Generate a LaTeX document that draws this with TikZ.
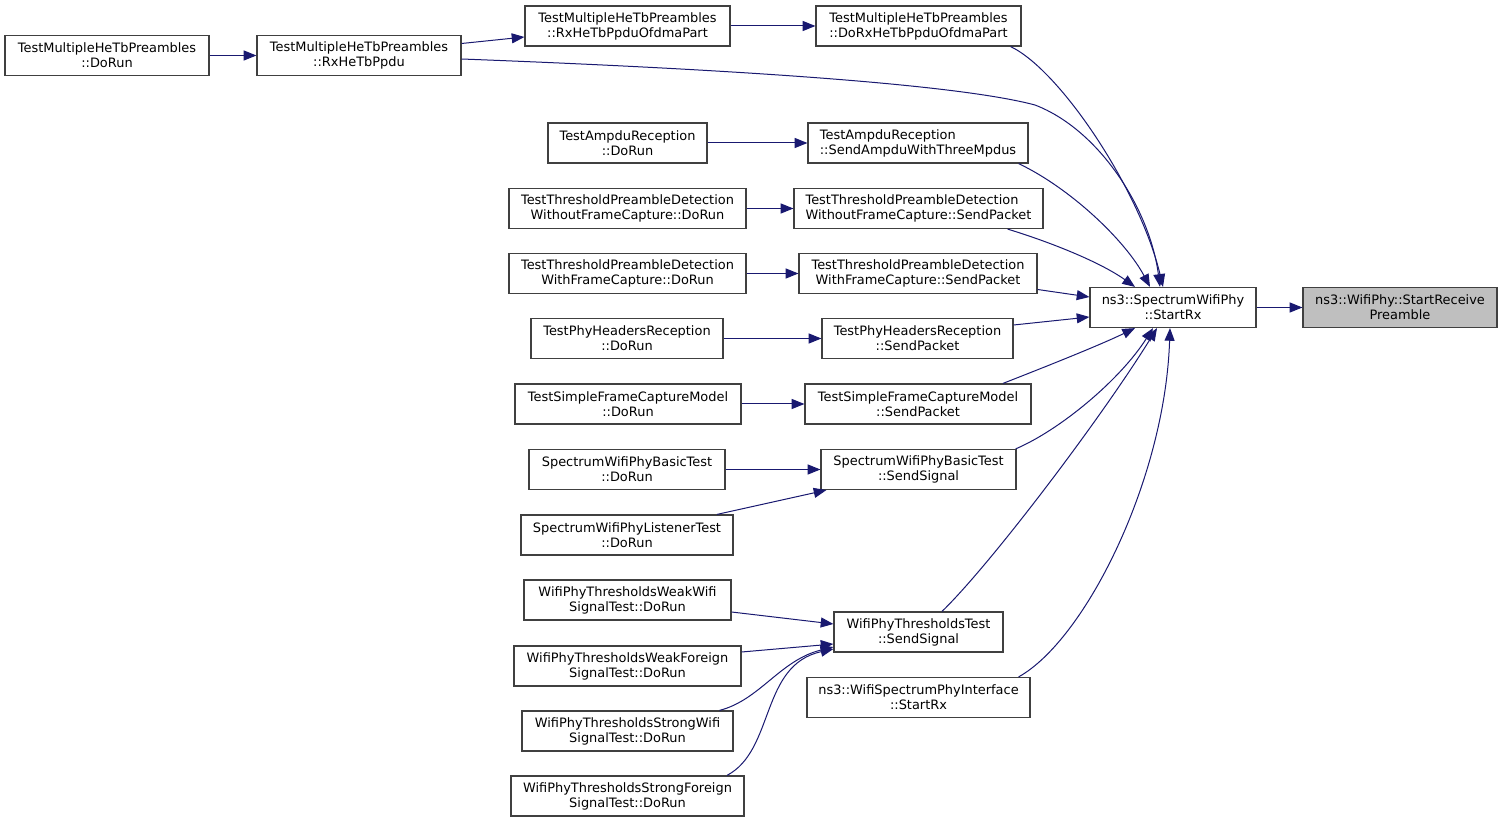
\documentclass[tikz,border=0pt]{standalone}
\usepackage{fontspec}
\setmainfont{DejaVu Sans}
\usetikzlibrary{arrows.meta,calc}
\definecolor{edgec}{HTML}{191970}
\definecolor{boxc}{HTML}{404040}
\definecolor{rootc}{HTML}{BFBFBF}
\begin{document}
\begin{tikzpicture}[x=0.75pt,y=-0.75pt,
  box/.style={draw=boxc, line width=0.9pt, fill=white, inner sep=0pt, minimum height=30pt, align=center, font=\fontsize{9.7}{11.25}\selectfont},
  bw/.style={minimum width=#1*0.75pt},
  edge/.style={draw=edgec, line width=0.75pt, -{Triangle[length=9.5pt,width=7.5pt]}}]
\useasboundingbox (0,0) rectangle (1503,823);
\node[box,bw=204] (A) at (107,55.5) {TestMultipleHeTbPreambles\\::DoRun};
\node[box,bw=204] (B) at (359,55.5) {TestMultipleHeTbPreambles\\::RxHeTbPpdu};
\node[box,bw=205] (C) at (627.5,26) {TestMultipleHeTbPreambles\\::RxHeTbPpduOfdmaPart};
\node[box,bw=205] (D) at (918.5,26) {TestMultipleHeTbPreambles\\::DoRxHeTbPpduOfdmaPart};
\node[box,bw=159] (E) at (627.5,143) {TestAmpduReception\\::DoRun};
\node[box,bw=220,align=left] (F) at (918,143) {TestAmpduReception\\::SendAmpduWithThreeMpdus};
\node[box,bw=237] (G) at (627.5,208.5) {TestThresholdPreambleDetection\\WithoutFrameCapture::DoRun};
\node[box,bw=249,align=left] (H) at (918.5,208.5) {TestThresholdPreambleDetection\\WithoutFrameCapture::SendPacket};
\node[box,bw=237] (I) at (627.5,273.5) {TestThresholdPreambleDetection\\WithFrameCapture::DoRun};
\node[box,bw=238] (J) at (918,273.5) {TestThresholdPreambleDetection\\WithFrameCapture::SendPacket};
\node[box,bw=192] (K) at (627,338.5) {TestPhyHeadersReception\\::DoRun};
\node[box,bw=191] (L) at (917.5,338.5) {TestPhyHeadersReception\\::SendPacket};
\node[box,bw=226] (M) at (628,404) {TestSimpleFrameCaptureModel\\::DoRun};
\node[box,bw=226] (N) at (918,404) {TestSimpleFrameCaptureModel\\::SendPacket};
\node[box,bw=196] (O) at (627,469.5) {SpectrumWifiPhyBasicTest\\::DoRun};
\node[box,bw=195] (P) at (918.5,469.5) {SpectrumWifiPhyBasicTest\\::SendSignal};
\node[box,bw=212] (Q) at (627,535) {SpectrumWifiPhyListenerTest\\::DoRun};
\node[box,bw=207] (R) at (627.5,600) {WifiPhyThresholdsWeakWifi\\SignalTest::DoRun};
\node[box,bw=169] (S) at (918.5,632) {WifiPhyThresholdsTest\\::SendSignal};
\node[box,bw=227] (T) at (627.5,666) {WifiPhyThresholdsWeakForeign\\SignalTest::DoRun};
\node[box,bw=211] (U) at (627.5,731) {WifiPhyThresholdsStrongWifi\\SignalTest::DoRun};
\node[box,bw=233] (V) at (627.5,796) {WifiPhyThresholdsStrongForeign\\SignalTest::DoRun};
\node[box,bw=223] (W) at (918.5,697.5) {ns3::WifiSpectrumPhyInterface\\::StartRx};
\node[box,bw=166] (X) at (1173,307.5) {ns3::SpectrumWifiPhy\\::StartRx};
\node[box,bw=194,fill=rootc] (Y) at (1400,307.5) {ns3::WifiPhy::StartReceive\\Preamble};

\draw[edge] (A) -- (B);
\draw[edge] ($(B.east)+(0,-12)$) -- ($(C.west)+(0,11)$);
\draw[edge] (C) -- (D);
\draw[edge] ($(D.south east)+(-11,0)$) .. controls (1060,70) and (1140,190) .. ($(X.north)+(-10,0)$);
\draw[edge] ($(B.east)+(0,3.5)$) .. controls (750,70) and (960,85) .. (1035,105) .. controls (1100,130) and (1150,210) .. ($(X.north)+(-13,0)$);
\draw[edge] (E) -- (F);
\draw[edge] ($(F.south east)+(-10,0)$) .. controls (1070,188) and (1125,240) .. ($(X.north)+(-23,0)$);
\draw[edge] (G) -- (H);
\draw[edge] ($(H.south east)+(-36,0)$) .. controls (1050,242) and (1100,262) .. ($(X.north)+(-38,0)$);
\draw[edge] (I) -- (J);
\draw[edge] ($(J.east)+(0,16)$) -- ($(X.west)+(0,-10.5)$);
\draw[edge] (K) -- (L);
\draw[edge] ($(L.east)+(0,-13.5)$) -- ($(X.west)+(0,9.5)$);
\draw[edge] (M) -- (N);
\draw[edge] ($(N.north)+(85,0)$) .. controls (1050,365) and (1100,345) .. ($(X.south)+(-38,0)$);
\draw[edge] (O) -- (P);
\draw[edge] ($(Q.north)+(90,0)$) -- ($(P.south west)+(6,0)$);
\draw[edge] ($(P.north east)+(-1,0)$) .. controls (1060,430) and (1120,380) .. ($(X.south)+(-20,0)$);
\draw[edge] ($(R.east)+(0,12)$) -- ($(S.west)+(0,-8)$);
\draw[edge] ($(T.east)+(0,-14)$) -- ($(S.west)+(0,12)$);
\draw[edge] ($(U.north)+(92,0)$) .. controls (760,700) and (780,660) .. ($(S.west)+(0,15)$);
\draw[edge] ($(V.north)+(99.5,0)$) .. controls (775,750) and (760,665) .. ($(S.west)+(0,17)$);
\draw[edge] ($(S.north)+(23.5,0)$) .. controls (990,565) and (1100,420) .. ($(X.south)+(-16,0)$);
\draw[edge] ($(W.north east)+(-12,0)$) .. controls (1085,640) and (1165,480) .. ($(X.south)+(-3,0)$);
\draw[edge] (X) -- (Y);
\end{tikzpicture}
\end{document}
